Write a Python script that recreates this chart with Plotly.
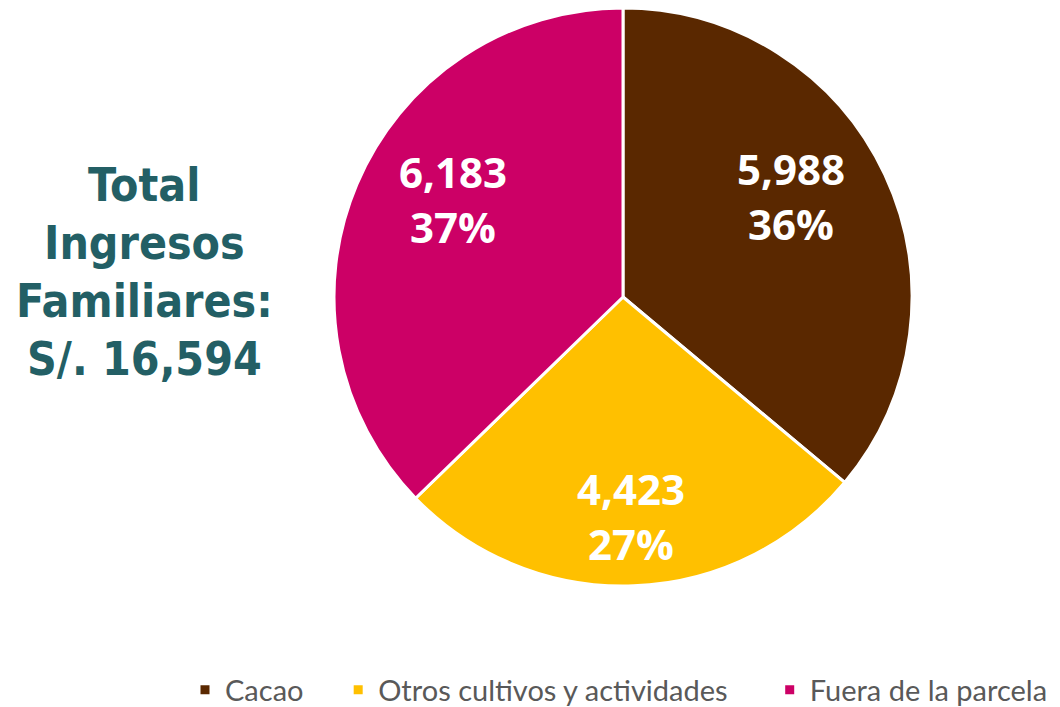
import math
import plotly.graph_objects as go

categories = ["Cacao", "Otros cultivos y actividades", "Fuera de la parcela"]
values = [5988, 4423, 6183]
colors = ["#5A2800", "#FFC000", "#CC0066"]
total_lines = ["Total", "Ingresos", "Familiares:", "S/. 16,594"]

W, H = 1060, 707
OFF = 8  # page body margin offset in the screenshot
cx, cy, r = 623, 297, 289  # screen pixels


def px2x(sx):
    return min(1, max(0, (sx - OFF) / W))


def px2y(sy):
    return min(1, max(0, 1 - (sy - OFF) / H))


NBSP = "\u00a0"
legend_pad = [4, 5, 0]

fig = go.Figure(go.Pie(
    labels=[c + NBSP * p for c, p in zip(categories, legend_pad)],
    values=values,
    sort=False,
    direction="clockwise",
    rotation=0,
    marker=dict(colors=colors, line=dict(color="white", width=3)),
    textinfo="none",
    hoverinfo="skip",
    domain=dict(x=[px2x(cx - r), px2x(cx + r)], y=[px2y(cy + r), px2y(cy - r)]),
))

# data labels placed along each slice's mid-angle
total = sum(values)
label_rfrac = [0.68, 0.76, 0.68]
label_ashift = [-6, 0, 7]
cum = 0
for v, rf, sh in zip(values, label_rfrac, label_ashift):
    mid = (cum + v / 2) / total * 360 + sh
    cum += v
    a = math.radians(mid)
    sx = cx + rf * r * math.sin(a)
    sy = cy - rf * r * math.cos(a)
    fig.add_annotation(
        text=f"<b>{v:,}</b><br><b>{round(v / total * 100)}%</b>",
        x=px2x(sx), y=px2y(sy), xref="paper", yref="paper",
        xanchor="center", yanchor="middle", showarrow=False,
        font=dict(family="Open Sans", size=42, color="white"), align="center",
    )

line_centers = [185, 243, 301, 359]
for t, yc in zip(total_lines, line_centers):
    fig.add_annotation(
        text="<b>" + t + "</b>",
        x=px2x(144), y=px2y(yc), xref="paper", yref="paper",
        xanchor="center", yanchor="middle", showarrow=False,
        font=dict(family="DejaVu Sans Condensed", size=46, color="#235F65"),
    )

fig.update_layout(
    width=W, height=H,
    margin=dict(l=0, r=0, t=0, b=0, autoexpand=False),
    paper_bgcolor="white", plot_bgcolor="white",
    legend=dict(
        orientation="h", x=px2x(185), y=px2y(690), xanchor="left", yanchor="middle",
        font=dict(family="Lato", size=29, color="#595959"),
        traceorder="normal",
    ),
)

fig.write_html("out.html")
